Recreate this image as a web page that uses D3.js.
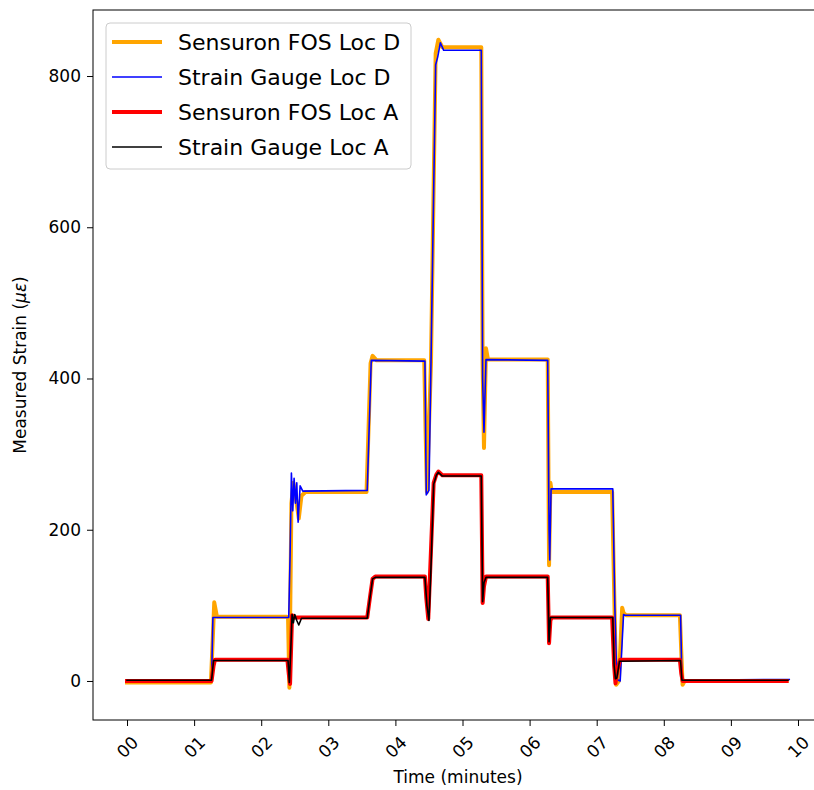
<!DOCTYPE html>
<html>
<head>
<meta charset="utf-8">
<script src="https://cdn.jsdelivr.net/npm/d3@7"></script>
<style>
  body { margin: 0; background: #fff; }
  text { font-family: "DejaVu Sans", sans-serif; fill: #000; }
</style>
</head>
<body>
<div id="chart"></div>
<script>
// Sensuron FOS Loc D (orange)
const fosDTime = [0.00, 1.25, 1.28, 1.30, 1.34, 2.38, 2.40, 2.42, 2.45, 2.48, 2.52, 2.56, 2.60, 2.66,
                  3.57, 3.63, 3.66, 3.72, 4.43, 4.45, 4.47, 4.53, 4.60, 4.64, 4.70, 5.28, 5.30, 5.32,
                  5.35, 5.38, 6.27, 6.29, 6.31, 6.33, 7.23, 7.26, 7.29, 7.33, 7.38, 7.40, 7.44, 8.24,
                  8.26, 8.28, 8.31, 9.83];
const fosDVal  = [-2, -2, 60, 104, 85, 85, 84, -9, 235, 262, 240, 215, 245, 250,
                  250, 420, 430, 424, 424, 330, 250, 420, 830, 848, 838, 838, 420, 308,
                  440, 425, 425, 153, 262, 250, 250, 120, -5, 0, 97, 90, 87, 87,
                  40, -5, 0, 0];

// Strain Gauge Loc D (blue)
const sgDTime = [0.00, 1.26, 1.28, 2.41, 2.43, 2.45, 2.47, 2.49, 2.51, 2.53, 2.55, 2.58, 2.62,
                 3.58, 3.64, 4.44, 4.46, 4.50, 4.53, 4.60, 4.63, 4.67, 4.72, 5.28, 5.30, 5.32,
                 5.35, 6.27, 6.29, 6.30, 6.32, 7.24, 7.27, 7.30, 7.35, 7.40, 7.42, 8.25, 8.27,
                 8.29, 9.87];
const sgDVal  = [1, 1, 84, 84, 165, 275, 225, 268, 235, 262, 210, 258, 251,
                 252, 424, 423, 246, 252, 420, 815, 825, 844, 834, 834, 400, 329,
                 425, 424, 200, 160, 254, 254, 100, 2, 0, 88, 87, 87, 1,
                 1, 2];

// Sensuron FOS Loc A (red)
const fosATime = [0.00, 1.26, 1.29, 1.31, 2.39, 2.41, 2.43, 2.46, 2.49, 3.58, 3.62, 3.66, 3.70,
                  4.44, 4.46, 4.49, 4.52, 4.57, 4.61, 4.64, 4.70, 5.28, 5.30, 5.32, 5.35, 6.27,
                  6.29, 6.31, 6.33, 7.23, 7.26, 7.28, 7.31, 7.35, 8.24, 8.26, 8.28, 9.83];
const fosAVal  = [0, 0, 20, 28, 28, 10, -4, 87, 84, 84, 110, 135, 138,
                  138, 110, 82, 150, 262, 273, 277, 272, 272, 103, 125, 138, 138,
                  50, 80, 84, 84, 20, -3, 15, 28, 28, 10, 0, 0];

// Strain Gauge Loc A (black)
const sgATime = [0.00, 1.26, 1.29, 2.40, 2.42, 2.44, 2.46, 2.48, 2.50, 2.53, 2.56, 2.60, 3.58,
                 3.62, 3.66, 3.70, 4.44, 4.47, 4.50, 4.53, 4.57, 4.61, 4.64, 4.70, 5.28, 5.30,
                 5.32, 5.35, 6.27, 6.29, 6.31, 7.24, 7.26, 7.28, 7.30, 7.34, 8.25, 8.27, 9.85];
const sgAVal  = [1, 1, 27, 27, -2, 40, 88, 77, 88, 80, 74, 83, 83,
                 110, 135, 137, 137, 100, 80, 150, 260, 272, 276, 271, 271, 105,
                 130, 137, 137, 52, 84, 84, 20, 3, 4, 26, 27, 1, 1];

const xTicks = [0, 1, 2, 3, 4, 5, 6, 7, 8, 9, 10];
const yTicks = [0, 200, 400, 600, 800];

function init() {
    const width = 814, height = 790;
    const left = 93, right = 821, top = 10, bottom = 720;

    const svg = d3.select("#chart").append("svg")
                  .attr("width", width)
                  .attr("height", height);

    const x = d3.scaleLinear().domain([-0.507, 10.343]).range([left, right]);
    const y = d3.scaleLinear().domain([-51.6, 887.3]).range([bottom, top]);

    const series = [
        { name: "Sensuron FOS Loc D", t: fosDTime, v: fosDVal, color: "orange", lw: 4 },
        { name: "Strain Gauge Loc D", t: sgDTime, v: sgDVal, color: "blue", lw: 1.6 },
        { name: "Sensuron FOS Loc A", t: fosATime, v: fosAVal, color: "red", lw: 4 },
        { name: "Strain Gauge Loc A", t: sgATime, v: sgAVal, color: "black", lw: 1.6 }
    ];

    const line = d3.line().x(d => x(d[0])).y(d => y(d[1]));

    svg.append("defs").append("clipPath").attr("id", "clip")
       .append("rect").attr("x", left).attr("y", top)
       .attr("width", right - left).attr("height", bottom - top);

    const plot = svg.append("g").attr("clip-path", "url(#clip)");
    series.forEach(s => {
        plot.append("path")
            .datum(d3.zip(s.t, s.v))
            .attr("d", line)
            .attr("fill", "none")
            .attr("stroke", s.color)
            .attr("stroke-width", s.lw)
            .attr("stroke-linejoin", "round")
            .attr("stroke-linecap", "square");
    });

    // axes
    const xAxis = svg.append("g")
        .attr("transform", `translate(0,${bottom})`)
        .call(d3.axisBottom(x).tickValues(xTicks).tickSize(6).tickFormat(d3.format("02d")));
    xAxis.select(".domain").remove();
    xAxis.selectAll("text")
         .attr("font-size", 17)
         .attr("font-family", "DejaVu Sans")
         .attr("text-anchor", "middle")
         .attr("dy", null)
         .attr("y", 0)
         .attr("transform", "translate(0,27) rotate(-45)")
         .attr("dominant-baseline", "central");

    const yAxis = svg.append("g")
        .attr("transform", `translate(${left},0)`)
        .call(d3.axisLeft(y).tickValues(yTicks).tickSize(6));
    yAxis.select(".domain").remove();
    yAxis.selectAll("text")
         .attr("font-size", 17)
         .attr("font-family", "DejaVu Sans")
         .attr("x", -12);

    // frame
    svg.append("rect")
       .attr("x", left).attr("y", top)
       .attr("width", right - left).attr("height", bottom - top)
       .attr("fill", "none").attr("stroke", "#000").attr("stroke-width", 1);

    // axis labels
    svg.append("text")
       .attr("x", (left + right) / 2 + 1).attr("y", 783)
       .attr("text-anchor", "middle").attr("font-size", 17)
       .text("Time (minutes)");

    const yl = svg.append("text")
       .attr("transform", `translate(26,${(top + bottom) / 2}) rotate(-90)`)
       .attr("text-anchor", "middle").attr("font-size", 17);
    yl.append("tspan").text("Measured Strain (");
    yl.append("tspan").attr("font-style", "italic").text("με");
    yl.append("tspan").text(")");

    // legend
    const lg = svg.append("g");
    lg.append("rect")
      .attr("x", 106).attr("y", 23).attr("width", 305).attr("height", 146)
      .attr("rx", 4).attr("fill", "#fff").attr("fill-opacity", 0.8)
      .attr("stroke", "#ccc").attr("stroke-width", 1);
    series.forEach((s, i) => {
        const ry = 42 + i * 35;
        lg.append("line")
          .attr("x1", 112).attr("x2", 162).attr("y1", ry).attr("y2", ry)
          .attr("stroke", s.color).attr("stroke-width", s.lw);
        lg.append("text")
          .attr("x", 178).attr("y", ry)
          .attr("dominant-baseline", "central")
          .attr("font-size", 22)
          .text(s.name);
    });
}

window.onload = init;
</script>
</body>
</html>
